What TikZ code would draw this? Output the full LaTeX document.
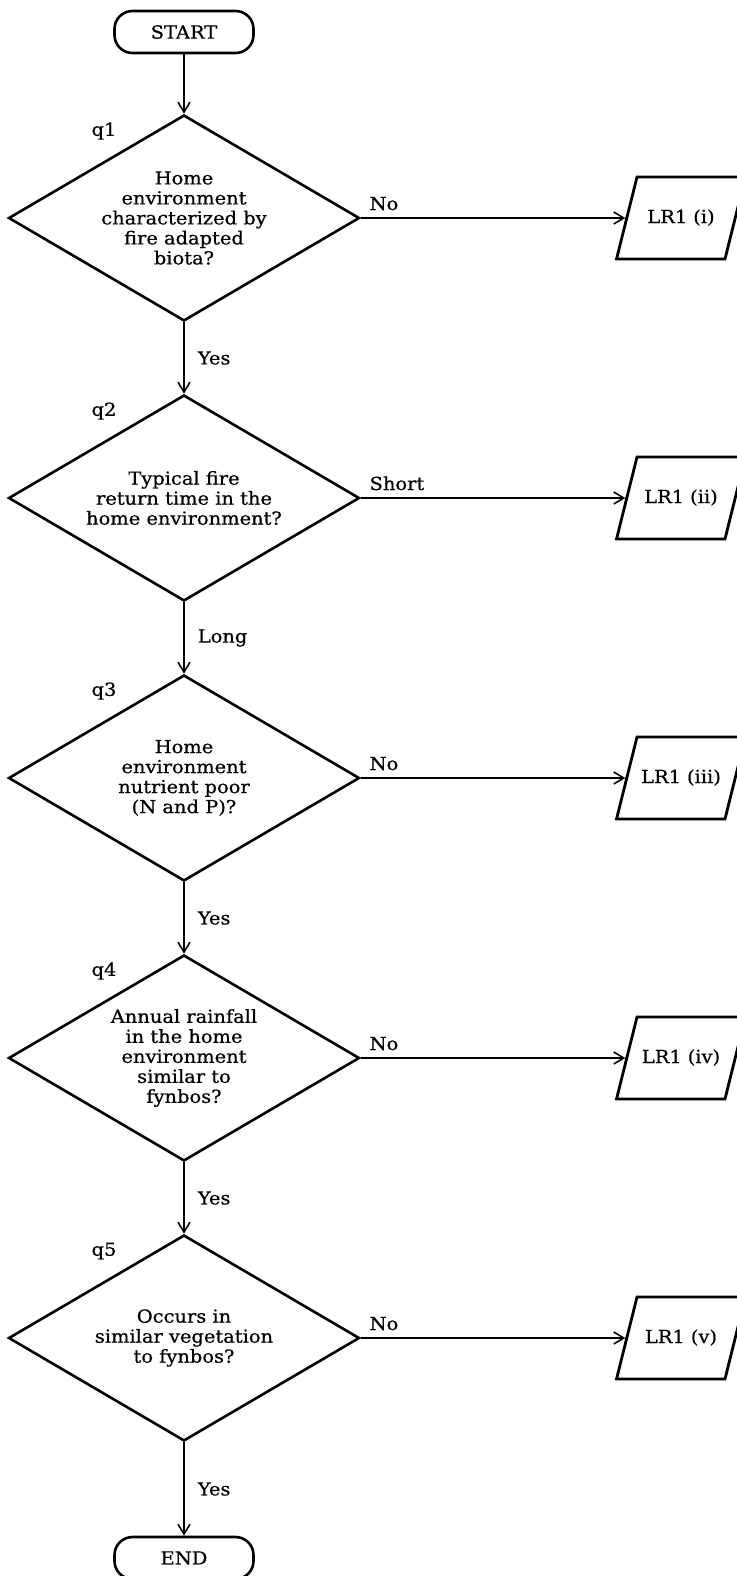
\documentclass[tikz,border=0pt]{standalone}
\usepackage{fontspec}
\setmainfont{DejaVu Serif}[FakeStretch=1.08,FakeBold=0.6]
\usetikzlibrary{shapes.geometric,arrows.meta}

\tikzset{
	question/.style={diamond, draw, line width=1.3pt, aspect=1.7, inner sep=0pt,
		minimum width=175.5pt, minimum height=103pt, align=center},
	terminal/.style={rectangle, draw, line width=1.3pt, rounded corners=9pt,
		minimum width=69.5pt, minimum height=21pt},
	result/.style={trapezium, draw, line width=1.4pt, trapezium left angle=76,
		trapezium right angle=104, trapezium stretches body,
		text width=42pt, align=center, text height=7pt, text depth=2pt,
		inner xsep=1pt, inner ysep=16pt},
	flow/.style={-{Straight Barb[length=5pt,width=6pt]}, line width=0.8pt},
	qtag/.style={inner sep=0pt},
	answer/.style={inner sep=0pt}
}

\begin{document}
\begin{tikzpicture}[x=0.5pt, y=-0.5pt, font=\fontsize{9}{10}\selectfont]
		\useasboundingbox (0,0) rectangle (737,1576);

		\node[terminal] (start) at (184,32) {START};
		\node[terminal] (end) at (184,1558) {END};

		\node[question] (q1) at (184,218) {Home\\environment\\characterized by\\fire adapted\\biota?};
		\node[question] (q2) at (184,498) {Typical fire\\return time in the\\home environment?};
		\node[question] (q3) at (184,778) {Home\\environment\\nutrient poor\\(N and P)?};
		\node[question] (q4) at (184,1058) {Annual rainfall\\in the home\\environment\\similar to\\fynbos?};
		\node[question] (q5) at (184,1338) {Occurs in\\similar vegetation\\to fynbos?};

		\node[qtag] (t1) at (104,131) {q1};
		\node[qtag] (t2) at (104,411) {q2};
		\node[qtag] (t3) at (104,691) {q3};
		\node[qtag] (t4) at (104,971) {q4};
		\node[qtag] (t5) at (104,1251) {q5};

		\node[result] (lr1) at (681,218) {LR1 (i)};
		\node[result] (lr2) at (681,498) {LR1 (ii)};
		\node[result] (lr3) at (681,778) {LR1 (iii)};
		\node[result] (lr4) at (681,1058) {LR1 (iv)};
		\node[result] (lr5) at (681,1338) {LR1 (v)};

		\draw[flow] (start) -- (q1);
		\draw[flow] (q1) -- node[answer, anchor=west, xshift=6.5pt] (y1) {Yes} (q2);
		\draw[flow] (q2) -- node[answer, anchor=west, xshift=6.5pt] (y2) {Long} (q3);
		\draw[flow] (q3) -- node[answer, anchor=west, xshift=6.5pt] (y3) {Yes} (q4);
		\draw[flow] (q4) -- node[answer, anchor=west, xshift=6.5pt] (y4) {Yes} (q5);
		\draw[flow] (q5) -- node[answer, anchor=west, xshift=6.5pt] (y5) {Yes} (end);

		\draw[flow] (q1) -- node[answer, pos=0, anchor=base west, xshift=4pt, yshift=4pt] (n1) {No} (lr1);
		\draw[flow] (q2) -- node[answer, pos=0, anchor=base west, xshift=4pt, yshift=4pt] (n2) {Short} (lr2);
		\draw[flow] (q3) -- node[answer, pos=0, anchor=base west, xshift=4pt, yshift=4pt] (n3) {No} (lr3);
		\draw[flow] (q4) -- node[answer, pos=0, anchor=base west, xshift=4pt, yshift=4pt] (n4) {No} (lr4);
		\draw[flow] (q5) -- node[answer, pos=0, anchor=base west, xshift=4pt, yshift=4pt] (n5) {No} (lr5);
	\end{tikzpicture}
\end{document}
